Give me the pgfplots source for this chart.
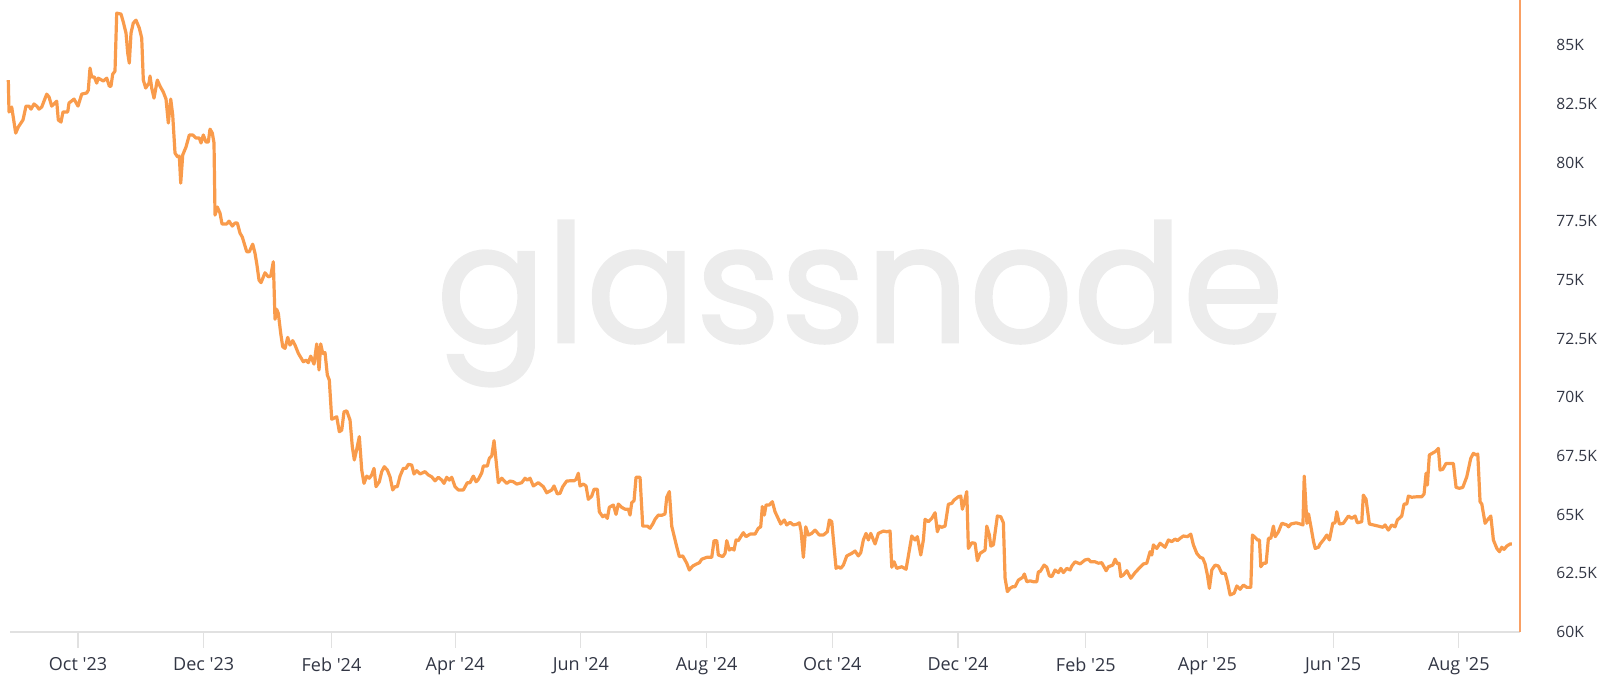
\documentclass[border=0pt]{standalone}
\usepackage{fontspec}
\setmainfont{Open Sans}
\newfontfamily\poppins[FakeBold=1.6]{Poppins}
\usepackage{pgfplots}
\usepackage{pgfplotstable}
\pgfplotsset{compat=1.18}
\definecolor{lineorange}{RGB}{249,155,75}
\definecolor{axisorange}{RGB}{249,160,100}
\definecolor{wmgray}{RGB}{236,236,236}
\definecolor{labgray}{RGB}{50,54,68}
\definecolor{gridgray}{RGB}{225,225,225}
\newcommand{\q}{\textquotesingle}

\pgfplotstableread{
x y
-33.82 83.51
-33.48 82.15
-32.17 82.36
-30.23 81.25
-28.97 81.51
-26.69 81.81
-25.23 82.40
-23.78 82.40
-22.81 82.27
-21.35 82.49
-20.04 82.40
-18.92 82.27
-17.61 82.36
-15.19 82.91
-14.07 82.79
-12.76 82.40
-10.34 82.61
-9.56 81.81
-8.25 81.72
-7.28 82.15
-5.00 82.15
-4.37 82.53
-1.94 82.70
0.00 82.40
1.80 82.91
4.22 82.96
5.00 83.08
5.82 84.02
6.65 83.64
7.91 83.64
9.07 83.38
9.85 83.59
12.28 83.47
13.93 83.59
15.19 83.25
16.01 83.25
16.84 83.76
17.95 83.89
18.78 86.36
20.87 86.32
21.98 85.98
23.29 85.51
24.12 84.66
24.89 84.23
25.72 85.51
26.83 85.94
28.14 86.06
29.75 85.72
30.91 85.30
31.69 83.51
32.85 83.17
34.45 83.38
34.94 83.68
35.76 83.17
36.88 82.74
38.48 83.51
39.79 83.25
41.39 83.00
42.70 82.70
43.82 81.68
44.98 82.70
45.95 82.02
47.07 80.40
48.38 80.23
49.16 80.27
49.84 79.12
50.81 80.32
52.41 80.66
54.01 81.17
55.66 81.17
57.26 81.04
58.86 81.04
59.69 80.83
60.80 81.17
62.11 80.87
63.23 80.87
64.05 81.42
65.17 81.25
65.99 80.83
66.48 77.76
67.60 78.10
68.91 77.84
69.88 77.38
72.16 77.38
73.27 77.50
74.87 77.29
76.18 77.42
77.30 77.42
78.61 76.99
79.73 76.82
81.86 76.20
83.12 76.20
84.77 76.52
85.89 76.13
86.72 75.70
87.83 74.99
88.80 74.88
90.74 75.30
92.34 75.13
93.51 75.16
94.77 75.77
95.59 73.32
96.42 73.74
97.20 73.57
98.36 72.72
99.33 72.15
100.45 72.08
101.76 72.55
102.87 72.22
104.18 72.41
105.30 72.22
106.90 71.87
109.33 71.51
110.64 71.58
111.75 71.47
112.92 71.75
114.52 71.41
115.83 72.27
116.95 71.16
117.77 72.27
118.74 71.87
119.86 71.90
120.97 70.95
121.94 70.73
123.11 69.06
125.53 69.17
126.80 68.53
127.96 68.60
129.08 69.38
130.39 69.42
131.99 69.03
133.10 67.89
134.07 67.33
135.24 67.78
136.50 68.32
137.67 66.90
138.78 66.33
140.09 66.64
141.35 66.55
142.52 66.69
143.63 66.97
144.60 66.19
146.21 66.40
147.37 66.83
148.63 67.04
150.09 66.90
151.40 66.61
152.71 66.05
153.82 66.19
154.94 66.19
156.25 66.64
157.85 66.97
159.16 66.97
160.28 67.14
161.93 67.11
163.04 66.73
164.35 66.87
165.96 66.73
168.38 66.83
169.98 66.69
171.63 66.61
173.23 66.44
174.84 66.59
176.49 66.47
177.60 66.33
178.91 66.59
180.17 66.47
181.34 66.59
182.94 66.19
184.54 66.05
186.97 66.05
188.91 66.36
190.22 66.36
191.82 66.64
193.13 66.40
194.25 66.50
195.90 66.78
196.68 67.07
198.62 67.07
199.59 67.40
200.75 67.50
201.87 68.15
203.95 66.36
205.60 66.55
208.03 66.33
209.63 66.43
211.23 66.40
212.88 66.30
215.31 66.36
216.91 66.55
218.03 66.47
219.33 66.55
220.94 66.22
223.36 66.36
225.79 66.19
227.44 65.93
229.87 66.05
230.98 66.22
232.59 65.88
233.90 65.91
235.21 66.19
237.14 66.43
238.74 66.44
240.68 66.44
241.65 66.50
242.77 66.76
243.59 66.22
245.20 66.30
246.51 66.22
247.62 65.65
249.27 65.79
250.39 66.08
251.99 66.08
252.96 65.12
254.61 64.91
255.73 64.98
256.84 64.84
257.81 65.31
259.75 65.41
261.06 65.01
262.18 65.45
263.83 65.31
265.43 65.23
267.03 65.23
267.86 64.98
268.68 65.51
269.80 65.59
270.77 66.59
272.71 66.59
274.02 64.51
276.25 64.51
277.56 64.42
278.87 64.60
279.99 64.80
281.59 64.98
283.24 64.97
284.84 65.03
285.67 65.74
286.93 65.98
288.09 64.51
290.52 63.63
291.78 63.21
293.43 63.24
295.37 62.93
296.63 62.64
298.28 62.81
300.22 62.90
301.49 62.95
302.65 63.10
305.08 63.18
307.50 63.18
308.62 63.89
309.93 63.89
310.71 63.28
312.84 63.21
313.96 63.35
314.78 63.89
316.04 63.49
317.21 63.56
318.32 63.49
319.29 63.92
320.41 63.89
321.57 64.06
322.83 64.23
324.14 64.06
326.08 64.17
328.51 64.17
330.11 64.42
331.27 64.48
332.05 65.34
333.02 64.98
333.85 65.41
335.45 65.41
336.91 65.55
338.22 65.12
339.34 64.91
340.99 64.60
342.73 64.77
343.90 64.56
345.50 64.67
347.10 64.56
348.75 64.59
350.02 64.65
350.84 64.31
351.96 63.18
353.12 64.48
354.38 64.13
356.03 64.20
357.64 64.34
359.72 64.13
361.66 64.13
363.60 64.27
364.57 64.77
365.73 64.70
367.82 62.71
368.94 62.78
370.10 62.71
371.37 62.85
373.02 63.24
375.44 63.35
377.04 63.45
378.64 63.24
379.81 63.38
381.07 63.92
382.38 64.20
383.50 63.92
384.66 64.20
386.75 63.75
388.35 64.20
390.78 64.30
392.43 64.27
394.03 64.30
394.86 62.76
395.97 62.99
397.28 62.71
399.71 62.78
401.79 62.67
402.91 63.24
404.56 64.09
406.16 63.92
407.28 64.06
408.93 63.28
410.19 63.92
411.01 64.80
412.62 64.70
414.27 64.84
415.87 65.08
416.98 64.27
417.95 64.51
419.12 64.46
420.72 64.51
422.32 65.44
423.97 65.48
425.08 65.62
427.17 65.76
428.34 65.79
429.11 65.23
429.94 65.48
431.25 65.98
432.03 63.56
433.68 63.80
435.28 63.78
436.40 63.04
437.71 63.35
440.13 63.49
440.96 64.51
442.22 64.13
442.90 63.66
444.16 63.71
446.10 64.94
447.75 64.91
449.01 64.65
449.84 62.29
450.95 61.72
452.26 61.86
453.57 61.93
454.69 61.93
456.29 62.21
458.43 62.33
459.20 62.47
460.37 62.14
461.97 62.18
463.57 62.14
465.22 62.14
466.00 62.57
466.82 62.57
468.76 62.85
470.07 62.76
471.33 62.39
472.50 62.36
474.10 62.64
475.70 62.53
476.87 62.71
478.13 62.53
479.78 62.71
481.38 62.64
482.21 62.81
483.81 62.99
486.24 62.90
488.66 63.07
490.26 63.10
491.43 62.99
493.52 62.99
495.12 62.93
496.77 62.95
498.86 62.61
499.97 62.78
502.11 62.85
503.22 63.10
504.34 62.90
505.16 62.93
505.99 62.36
507.25 62.43
508.90 62.61
510.84 62.29
512.93 62.53
515.35 62.76
516.95 62.90
518.60 62.93
520.20 63.42
521.03 63.28
521.80 63.71
523.45 63.56
525.06 63.78
527.48 63.61
529.08 63.92
530.73 63.85
532.33 63.96
533.45 63.89
534.76 63.99
536.36 64.09
538.30 64.06
539.95 64.17
541.21 63.71
542.86 63.35
544.46 63.18
545.77 63.14
546.89 62.90
548.00 62.43
548.98 61.86
550.14 62.64
551.75 62.85
553.35 62.81
555.00 62.50
556.60 62.50
557.72 62.14
559.03 61.58
560.97 61.65
562.28 61.96
563.88 61.82
565.48 62.00
567.13 61.90
569.07 61.90
569.85 64.13
571.16 64.03
572.28 63.92
573.25 63.92
573.93 62.78
575.19 62.93
576.50 62.93
577.62 63.99
578.78 63.99
580.04 64.51
580.87 64.06
582.47 64.27
584.12 64.63
586.55 64.56
587.37 64.48
588.54 64.60
591.11 64.65
593.05 64.60
594.36 64.56
594.99 66.64
596.30 64.63
597.08 65.03
598.25 64.48
599.51 63.85
600.33 63.56
601.93 63.61
602.70 63.75
604.31 63.92
605.96 64.13
607.22 63.92
608.84 64.63
609.95 64.65
610.78 65.12
612.04 64.60
613.98 64.63
616.41 64.94
618.06 64.84
619.66 64.94
620.77 64.65
622.91 64.70
623.68 65.83
624.99 65.65
626.60 64.60
628.54 64.56
630.96 64.51
633.10 64.46
634.21 64.56
635.81 64.34
637.46 64.56
639.07 64.48
640.18 64.77
642.32 64.94
643.44 65.45
644.75 65.45
645.52 65.79
647.17 65.74
649.60 65.76
652.02 65.76
653.14 65.88
654.11 66.76
654.74 66.26
655.71 67.54
658.48 67.68
660.08 67.82
660.90 66.90
662.21 66.93
663.81 67.18
667.36 67.18
668.67 66.16
670.27 66.12
671.92 66.16
673.86 66.61
675.80 67.40
677.07 67.61
678.38 67.54
679.20 67.58
680.32 65.55
681.15 65.45
682.75 64.63
683.87 64.77
685.52 64.94
686.78 63.92
688.43 63.56
689.70 63.42
690.86 63.61
691.98 63.52
693.29 63.66
694.89 63.75
695.72 63.75
}\pricedata

\begin{document}
\begin{tikzpicture}
\path[use as bounding box] (-5pt,-29pt) rectangle (795pt,316pt);
\node[anchor=base, text=wmgray, inner sep=0pt, xscale=0.99, font=\poppins\fontsize{82}{82}\selectfont] at (425pt,145pt) {glassnode};
\begin{axis}[
  scale only axis,
  width=755pt, height=316pt,
  xmin=-33, xmax=699.7,
  ymin=60, ymax=86.92,
  axis x line*=bottom,
  axis y line*=right,
  x axis line style={draw=gridgray, line width=0.6pt, -},
  y axis line style={draw=axisorange, line width=0.8pt, -},
  xtick={0,61,123,183,244,305,366,427,489,548,609,670},
  xticklabels={Oct \q23,Dec \q23,Feb \q24,Apr \q24,Jun \q24,Aug \q24,Oct \q24,Dec \q24,Feb \q25,Apr \q25,Jun \q25,Aug \q25},
  ytick={60,62.5,65,67.5,70,72.5,75,77.5,80,82.5,85},
  yticklabels={60K,62.5K,65K,67.5K,70K,72.5K,75K,77.5K,80K,82.5K,85K},
  major tick length=8pt,
  xtick style={draw=gridgray, line width=0.6pt},
  tick align=outside,
  ytick style={draw=none},
  xticklabel style={font=\fontsize{9}{10}\selectfont, text=labgray, inner sep=0pt, anchor=north, yshift=-4.5pt},
  yticklabel style={font=\fontsize{7.8}{8}\selectfont, text=labgray, inner sep=0pt, anchor=west, xshift=10pt},
  clip=false,
]
\addplot[color=lineorange, line width=1.6pt, line join=round, mark=none] table[x=x, y=y] {\pricedata};
\end{axis}
\end{tikzpicture}
\end{document}
